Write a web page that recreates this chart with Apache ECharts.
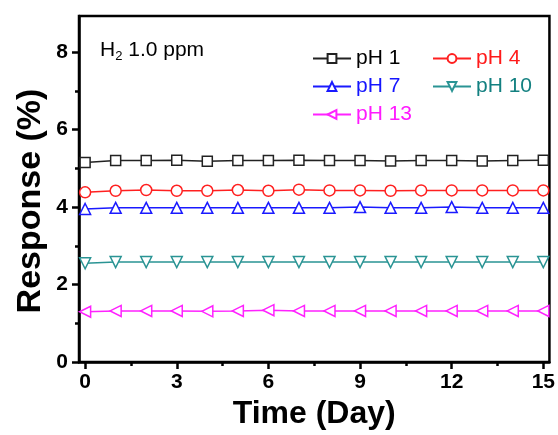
<!DOCTYPE html>
<html>
<head>
<meta charset="utf-8">
<script src="https://cdn.jsdelivr.net/npm/echarts@6/dist/echarts.min.js"></script>
<style>
  html, body { margin: 0; padding: 0; background: #fff; }
  #chart { width: 558px; height: 435px; }
</style>
</head>
<body>
<div id="chart"></div>
<script>
const days = [0, 1, 2, 3, 4, 5, 6, 7, 8, 9, 10, 11, 12, 13, 14, 15];
const ph1 = [5.15, 5.2, 5.2, 5.21, 5.18, 5.2, 5.2, 5.21, 5.2, 5.2, 5.19, 5.2, 5.2, 5.19, 5.2, 5.21];
const ph4 = [4.38, 4.42, 4.44, 4.42, 4.42, 4.44, 4.42, 4.45, 4.43, 4.43, 4.42, 4.43, 4.43, 4.43, 4.43, 4.43];
const ph7 = [3.95, 3.98, 3.98, 3.98, 3.98, 3.98, 3.98, 3.98, 3.98, 4.0, 3.98, 3.98, 4.0, 3.98, 3.98, 3.98];
const ph10 = [2.55, 2.58, 2.58, 2.58, 2.58, 2.58, 2.58, 2.58, 2.58, 2.58, 2.58, 2.58, 2.58, 2.58, 2.58, 2.58];
const ph13 = [1.3, 1.32, 1.32, 1.32, 1.31, 1.32, 1.34, 1.32, 1.32, 1.32, 1.32, 1.32, 1.32, 1.32, 1.32, 1.32];

const xMajor = [0, 3, 6, 9, 12, 15];
const xMinor = [1.5, 4.5, 7.5, 10.5, 13.5];
const yMajor = [0, 2, 4, 6, 8];
const yMinor = [1, 3, 5, 7];

const FONT = 'Liberation Sans, Arial, sans-serif';

function series(name, values, color, symbol, rotate) {
  return {
    name: name,
    type: 'line',
    data: days.map((d, i) => [d, values[i]]),
    symbol: symbol,
    symbolSize: symbol === 'rect' ? 10 : 11,
    symbolRotate: rotate || 0,
    showAllSymbol: true,
    lineStyle: { color: color, width: 1.5 },
    itemStyle: { color: '#fff', borderColor: color, borderWidth: 1.5 },
    emphasis: { disabled: true },
    z: 3
  };
}

function legendItem(name, color) {
  return { name: name, textStyle: { color: color } };
}

const chart = echarts.init(document.getElementById('chart'));

chart.setOption({
  animation: false,
  grid: {
    left: 79, top: 16, right: 8, bottom: 72,
    show: true, borderColor: '#000', borderWidth: 2.5, backgroundColor: 'transparent'
  },
  xAxis: [
    {
      type: 'value', min: -0.2, max: 15.2,
      name: 'Time (Day)', nameLocation: 'middle', nameGap: 34,
      nameTextStyle: { fontFamily: FONT, fontWeight: 'bold', fontSize: 32, color: '#000' },
      axisLine: { onZero: false, lineStyle: { color: '#000', width: 2.5 } },
      axisTick: { show: true, length: 7, lineStyle: { color: '#000', width: 2.5 }, customValues: xMajor },
      axisLabel: { customValues: xMajor, fontFamily: FONT, fontWeight: 'bold', fontSize: 21, color: '#000', margin: 10 },
      splitLine: { show: false }
    },
    {
      type: 'value', min: -0.2, max: 15.2, position: 'bottom',
      axisLine: { show: false, onZero: false },
      axisTick: { show: true, length: 4, lineStyle: { color: '#000', width: 2.5 }, customValues: xMinor },
      axisLabel: { show: false },
      splitLine: { show: false }
    }
  ],
  yAxis: [
    {
      type: 'value', min: 0, max: 8.93,
      axisLine: { show: true, onZero: false, lineStyle: { color: '#000', width: 2.5 } },
      axisTick: { show: true, length: 7, lineStyle: { color: '#000', width: 2.5 }, customValues: yMajor },
      axisLabel: { customValues: yMajor, fontFamily: FONT, fontWeight: 'bold', fontSize: 21, color: '#000', margin: 11 },
      splitLine: { show: false }
    },
    {
      type: 'value', min: 0, max: 8.93, position: 'left',
      axisLine: { show: false, onZero: false },
      axisTick: { show: true, length: 4, lineStyle: { color: '#000', width: 2.5 }, customValues: yMinor },
      axisLabel: { show: false },
      splitLine: { show: false }
    }
  ],
  legend: [
    {
      orient: 'vertical', left: 307, top: 43, itemWidth: 38, itemHeight: 11, itemGap: 7,
      textStyle: { fontFamily: FONT, fontSize: 21 },
      selectedMode: false,
      data: [legendItem('pH 1', '#000'), legendItem('pH 7', '#1515ff'), legendItem('pH 13', '#ff1aff')]
    },
    {
      orient: 'vertical', left: 427, top: 43, itemWidth: 38, itemHeight: 11, itemGap: 7,
      textStyle: { fontFamily: FONT, fontSize: 21 },
      selectedMode: false,
      data: [legendItem('pH 4', '#ff1a1a'), legendItem('pH 10', '#138080')]
    }
  ],
  graphic: [
    {
      type: 'text', left: 100, top: 40,
      style: {
        text: 'H{sub|2} 1.0 ppm',
        font: '21px ' + FONT,
        fill: '#000',
        rich: { sub: { fontSize: 13, padding: [11, 0, 0, 0], fontFamily: FONT } }
      }
    },
    {
      type: 'text', x: 31, y: 201, rotation: Math.PI / 2,
      style: {
        text: 'Response (%)',
        font: 'bold 34px ' + FONT,
        fill: '#000',
        align: 'center',
        verticalAlign: 'middle'
      }
    }
  ],
  series: [
    series('pH 1', ph1, '#222', 'rect'),
    series('pH 4', ph4, '#ff2020', 'circle'),
    series('pH 7', ph7, '#1a1aff', 'triangle'),
    series('pH 10', ph10, '#2a9494', 'triangle', 180),
    series('pH 13', ph13, '#ff22ff', 'triangle', 90)
  ]
});

window.addEventListener('resize', () => chart.resize());
</script>
</body>
</html>
